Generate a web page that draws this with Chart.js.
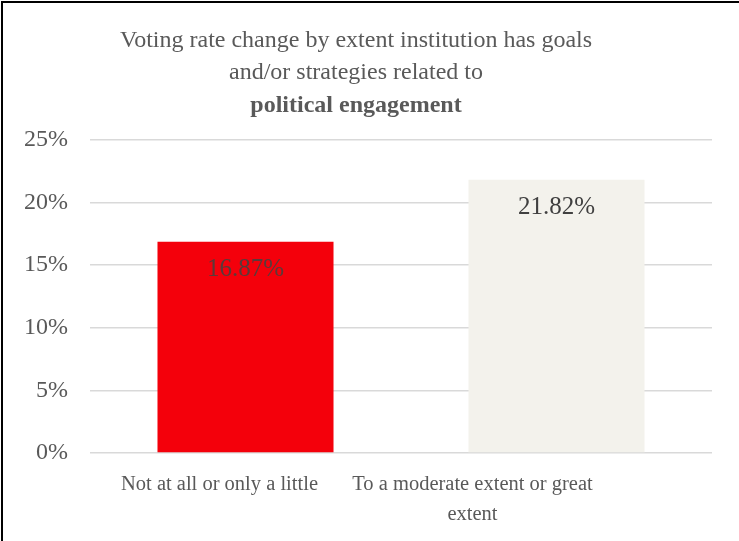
<!DOCTYPE html>
<html>
<head>
<meta charset="utf-8">
<script src="https://cdn.jsdelivr.net/npm/chart.js@4"></script>
<style>
  body { margin: 0; background: #fff; }
  #wrap { position: relative; width: 739px; height: 541px; overflow: hidden; }
  #frame {
    position: absolute; left: 1px; top: 1px; right: -10px; bottom: -10px;
    border-left: 2px solid #000; border-top: 2px solid #000;
    pointer-events: none;
  }
</style>
</head>
<body>
<div id="wrap">
  <canvas id="chart" width="739" height="541"></canvas>
  <div id="frame"></div>
</div>
<script>
  // Chart data
  const categories = [
    ["Not at all or only a little"],
    ["To a moderate extent or great", "extent"]
  ];
  const votingRateChange = [16.87, 21.82];
  const barColors = ["#F4000B", "#F3F2EC"];
  const yTicks = [0, 5, 10, 15, 20, 25];

  const serif = "'Liberation Serif', 'Times New Roman', serif";

  // Value labels inside the top of each bar
  const valueLabels = {
    id: "valueLabels",
    afterDatasetsDraw(chart) {
      const ctx = chart.ctx;
      const meta = chart.getDatasetMeta(0);
      ctx.save();
      ctx.font = "25px " + serif;
      ctx.textAlign = "center";
      ctx.textBaseline = "middle";
      meta.data.forEach((bar, i) => {
        ctx.fillStyle = i === 0 ? "#5a3a3a" : "#404040";
        ctx.fillText(votingRateChange[i].toFixed(2) + "%", bar.x, bar.y + 28);
      });
      ctx.restore();
    }
  };

  // Category labels under the axis, wrapped onto lines
  const categoryLabels = {
    id: "categoryLabels",
    afterDraw(chart, args, opts) {
      const ctx = chart.ctx;
      const xScale = chart.scales.x;
      const bottom = chart.chartArea.bottom;
      ctx.save();
      ctx.font = "20.5px " + serif;
      ctx.fillStyle = "#595959";
      ctx.textAlign = "center";
      ctx.textBaseline = "middle";
      categories.forEach((lines, i) => {
        const x = xScale.getPixelForValue(i) + opts.shift[i];
        lines.forEach((line, j) => {
          ctx.fillText(line, x, bottom + 32 + j * 30);
        });
      });
      ctx.restore();
    }
  };

  new Chart(document.getElementById("chart"), {
    type: "bar",
    data: {
      labels: categories.map(c => c.join(" ")),
      datasets: [{
        data: votingRateChange,
        backgroundColor: barColors,
        categoryPercentage: 1,
        barPercentage: 0.566
      }]
    },
    options: {
      responsive: false,
      animation: false,
      layout: { padding: { left: 0, right: 27, top: 0, bottom: 88 } },
      plugins: {
        legend: { display: false },
        tooltip: { enabled: false },
        title: {
          display: true,
          text: ["Voting rate change by extent institution has goals", "and/or strategies related to"],
          color: "#595959",
          font: { family: serif, size: 24, weight: "normal", lineHeight: 1.36 },
          padding: { top: 24, bottom: 0 }
        },
        subtitle: {
          display: true,
          text: "political engagement",
          color: "#595959",
          font: { family: serif, size: 24, weight: "bold", lineHeight: 1.36 },
          padding: { top: 0, bottom: 18 }
        },
        categoryLabels: { shift: [-26, -84] }
      },
      scales: {
        x: {
          display: false
        },
        y: {
          min: 0,
          max: 25,
          afterFit(scale) { scale.width = 90; },
          afterBuildTicks(scale) { scale.ticks = yTicks.map(v => ({ value: v })); },
          ticks: {
            padding: 22,
            color: "#595959",
            font: { family: serif, size: 24 },
            callback: v => v + "%"
          },
          grid: { color: "#D9D9D9", lineWidth: 1.5, drawTicks: false },
          border: { display: false }
        }
      }
    },
    plugins: [valueLabels, categoryLabels]
  });
</script>
</body>
</html>
